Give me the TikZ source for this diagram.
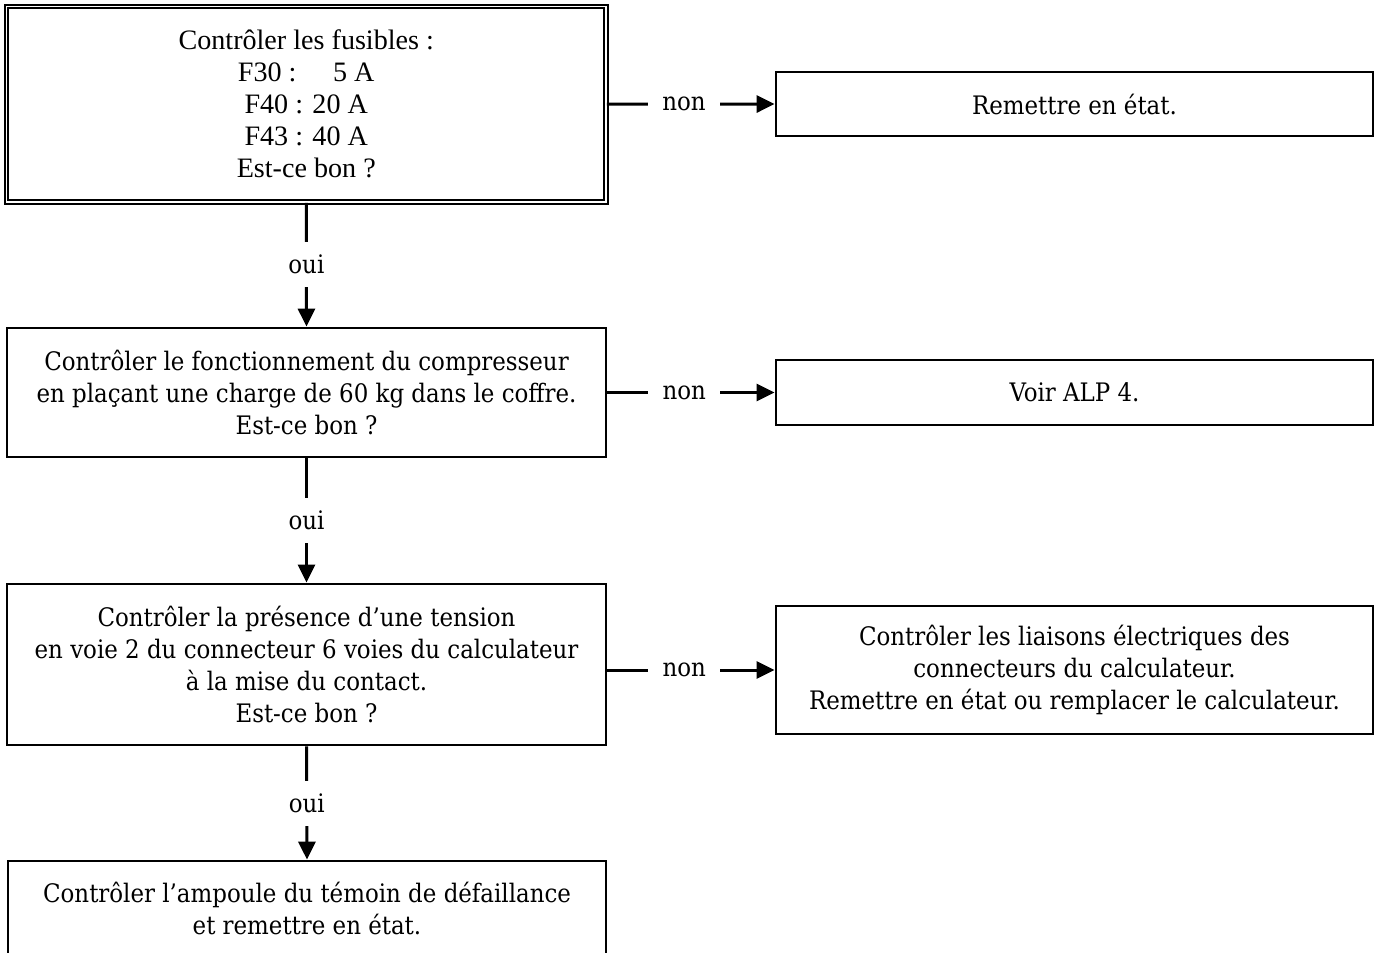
\documentclass[tikz,border=0pt]{standalone}
\usepackage{fontspec}
\setmainfont{DejaVu Serif Condensed}
\newfontfamily\timesfont{Liberation Serif}
\usepackage{tikz}
\usetikzlibrary{calc, arrows.meta, positioning}

\tikzset{
  texte/.style={font=\fontsize{14.5}{18.2}\selectfont},
  boite/.style={texte, draw, line width=1.6pt, align=center, minimum width=11.98cm, inner sep=0pt},
  boited/.style={boite, line width=0.038cm, double, double distance=0.036cm, font=\timesfont\fontsize{16}{18.2}\selectfont},
  fleche/.style={line width=0.06cm, -{Triangle[length=0.36cm, width=0.34cm]}},
  etiqh/.style={texte, fill=white, pos=0.46, minimum width=1.44cm, inner sep=0pt},
  etiqv/.style={texte, fill=white, pos=0.5, minimum height=0.9cm, inner sep=0pt}
}

\begin{document}
\begin{tikzpicture}
  \useasboundingbox (0,0) rectangle (27.56,-19.06);
  \coordinate (F) at (6.125,-2.085);
  \coordinate (R) at (21.49,-2.08);
  \coordinate (C) at (6.13,-7.85);
  \coordinate (V) at (21.49,-7.85);
  \coordinate (T) at (6.13,-13.29);
  \coordinate (L) at (21.49,-13.40);
  \coordinate (P) at (6.14,-18.16);

  \node[boited, minimum width=11.99cm, minimum height=3.91cm] (fus) at (F)
    {Contrôler les fusibles :\\F30 :\hspace{1.3em}5 A\\F40 : 20 A\\F43 : 40 A\\Est-ce bon ?};
  \node[boite, minimum width=11.94cm, minimum height=1.28cm] (rep) at (R) {Remettre en état.};
  \node[boite, minimum height=2.58cm] (comp) at (C)
    {Contrôler le fonctionnement du compresseur\\en plaçant une charge de 60 kg dans le coffre.\\Est-ce bon ?};
  \node[boite, minimum width=11.94cm, minimum height=1.30cm] (alp) at (V) {Voir ALP 4.};
  \node[boite, minimum height=3.22cm] (tens) at (T)
    {Contrôler la présence d'une tension\\en voie 2 du connecteur 6 voies du calculateur\\à la mise du contact.\\Est-ce bon ?};
  \node[boite, minimum width=11.94cm, minimum height=2.56cm] (liais) at (L)
    {Contrôler les liaisons électriques des\\connecteurs du calculateur.\\Remettre en état ou remplacer le calculateur.};
  \node[boite, minimum width=11.96cm, minimum height=1.88cm] (amp) at (P)
    {Contrôler l'ampoule du témoin de défaillance\\et remettre en état.};

  % non
  \draw[fleche] (fus.east) -- node[etiqh]{non} (rep.west);
  \draw[fleche] (comp.east |- alp.west) -- node[etiqh]{non} (alp.west);
  \draw[fleche] (tens.east |- liais.west) -- node[etiqh]{non} (liais.west);
  % oui
  \draw[fleche] (fus.south) -- node[etiqv]{oui} (comp.north);
  \draw[fleche] (comp.south) -- node[etiqv]{oui} (tens.north);
  \draw[fleche] (tens.south) -- node[etiqv]{oui} (amp.north);
\end{tikzpicture}
\end{document}
